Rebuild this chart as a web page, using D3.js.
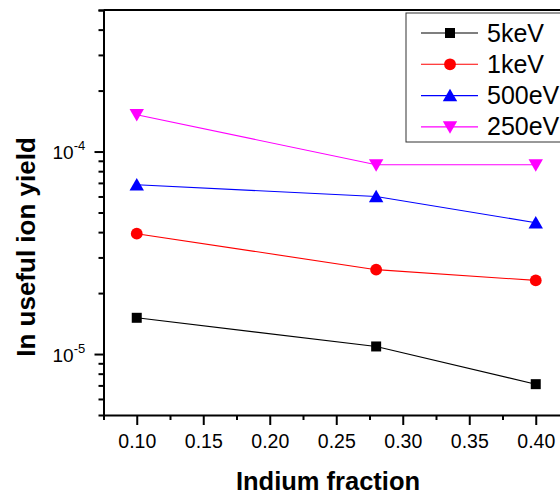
<!DOCTYPE html>
<html><head><meta charset="utf-8">
<script src="https://cdn.jsdelivr.net/npm/d3@7"></script>
<style>body{margin:0;background:#fff}svg{display:block}text{font-family:"Liberation Sans",Arial,sans-serif}</style>
</head><body><svg id="c" width="560" height="495"></svg>
<script>
const xValues = [0.10, 0.28, 0.40];
const seriesNames = ["5keV", "1keV", "500eV", "250eV"];
const yield5keV = [1.51e-5, 1.09e-5, 7.1e-6];
const yield1keV = [3.93e-5, 2.61e-5, 2.31e-5];
const yield500eV = [6.85e-5, 6.0e-5, 4.45e-5];
const yield250eV = [1.52e-4, 8.6e-5, 8.6e-5];
const xTickLabels = ["0.10", "0.15", "0.20", "0.25", "0.30", "0.35", "0.40"];
const yMajorExponents = [-5, -4];

const seriesValues = [yield5keV, yield1keV, yield500eV, yield250eV];
const colors = ["#000000", "#ff0000", "#0000ff", "#ff00ff"];
const symbols = [d3.symbolSquare, d3.symbolCircle, d3.symbolTriangle, d3.symbolTriangle];
const symSizes = [100, 110, 90, 90];
const rotations = [0, 0, 0, 180];

const svg = d3.select("#c");
const L = 103.5, T = 10, B = 415;
const x = d3.scaleLinear().domain([0.075, 0.425]).range([L, L + 0.35 * 1330]);
const y = d3.scaleLog().domain([5e-6, 5e-4]).range([B, T]);

// frame top line
svg.append("line").attr("x1", L).attr("x2", x(0.425)).attr("y1", T).attr("y2", T)
  .attr("stroke", "#000").attr("stroke-width", 2);

// x axis
const xMajor = xTickLabels.map(Number);
const xMinor = d3.range(0.075, 0.43, 0.05).map(v => +v.toFixed(3));
const gx = svg.append("g").attr("transform", `translate(0,${B})`);
gx.call(d3.axisBottom(x).tickValues(xMinor).tickSize(5).tickFormat(""));
gx.call(g => g.selectAll("text").remove());
const gx2 = svg.append("g").attr("transform", `translate(0,${B})`)
  .call(d3.axisBottom(x).tickValues(xMajor).tickSize(10).tickPadding(9)
    .tickFormat((d, i) => xTickLabels[i]));
[gx, gx2].forEach(g => {
  g.selectAll("path").attr("stroke-width", 2).attr("stroke", "#000");
  g.selectAll("line").attr("stroke-width", 2).attr("stroke", "#000");
  g.selectAll("text").attr("font-size", 19.5).attr("fill", "#000")
    .style("font-family", "'Liberation Sans', Arial, sans-serif");
});
gx2.select("path").remove();

// y axis
const yMinor = [];
[-6, -5, -4].forEach(e => { for (let m = 2; m <= 9; m++) { const v = m * Math.pow(10, e); if (v >= 5e-6 && v <= 5e-4) yMinor.push(v); } });
const gy = svg.append("g").attr("transform", `translate(${L},0)`)
  .call(d3.axisLeft(y).tickValues(yMinor).tickSize(5).tickFormat(""));
const yMajor = yMajorExponents.map(e => Math.pow(10, e));
const gy2 = svg.append("g").attr("transform", `translate(${L},0)`)
  .call(d3.axisLeft(y).tickValues(yMajor).tickSize(9).tickFormat(""));
[gy, gy2].forEach(g => {
  g.selectAll("path").attr("stroke-width", 2).attr("stroke", "#000");
  g.selectAll("line").attr("stroke-width", 2).attr("stroke", "#000");
});
gy2.select("path").remove();
gy2.selectAll(".tick").each(function(d, i) {
  const t = d3.select(this).append("text").attr("x", -51).attr("y", 7)
    .attr("text-anchor", "start").attr("font-size", 19).attr("fill", "#000");
  t.append("tspan").text("10");
  t.append("tspan").attr("dy", -9).attr("font-size", 13).text(String(yMajorExponents[i]));
});

// axis titles
svg.append("text").attr("x", 328).attr("y", 490).attr("text-anchor", "middle")
  .attr("font-size", 25.5).attr("font-weight", "bold").text("Indium fraction");
svg.append("text").attr("transform", "translate(35,247) rotate(-90)").attr("text-anchor", "middle")
  .attr("font-size", 26).attr("font-weight", "bold").text("In useful ion yield");

// series
const line = d3.line().x((d, i) => x(xValues[i])).y(d => y(d));
seriesValues.forEach((vals, si) => {
  svg.append("path").datum(vals).attr("d", line).attr("fill", "none")
    .attr("stroke", colors[si]).attr("stroke-width", 1.1);
  svg.selectAll(null).data(vals).enter().append("path")
    .attr("d", d3.symbol().type(symbols[si]).size(symSizes[si]))
    .attr("transform", (d, i) => `translate(${x(xValues[i])},${y(d) + (si === 2 ? 1.5 : si === 3 ? -1.5 : 0)}) rotate(${rotations[si]})`)
    .attr("fill", colors[si]);
});

// legend
const lg = svg.append("g");
lg.append("rect").attr("x", 406).attr("y", 13).attr("width", 170).attr("height", 129)
  .attr("fill", "#fff").attr("stroke", "#333").attr("stroke-width", 1);
seriesNames.forEach((n, si) => {
  const ly = 33 + si * 31.3;
  lg.append("line").attr("x1", 421).attr("x2", 478).attr("y1", ly).attr("y2", ly)
    .attr("stroke", colors[si]).attr("stroke-width", 1.1);
  lg.append("path").attr("d", d3.symbol().type(symbols[si]).size(symSizes[si]))
    .attr("transform", `translate(450,${ly + (si === 2 ? 1.5 : si === 3 ? -1.5 : 0)}) rotate(${rotations[si]})`)
    .attr("fill", colors[si]);
  lg.append("text").attr("x", 487).attr("y", ly + 8.5).attr("font-size", 25).attr("fill", "#000").text(n);
});
</script></body></html>
